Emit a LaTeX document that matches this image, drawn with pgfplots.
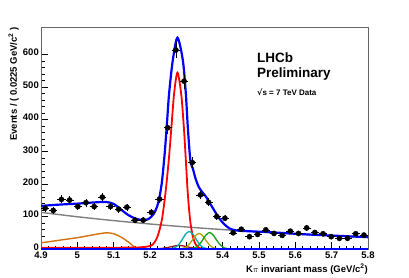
\documentclass[border=0pt]{standalone}
\usepackage{pgfplots}
\pgfplotsset{compat=1.18}
\usepackage{fontspec}
\setmainfont{Liberation Sans}
\newfontfamily\djv{DejaVu Sans}
\definecolor{rootorange}{RGB}{210,115,15}
\definecolor{rootcyan}{RGB}{0,170,170}
\definecolor{rootolive}{RGB}{170,165,0}
\definecolor{rootgreen}{RGB}{20,160,20}
\definecolor{rootbrown}{RGB}{150,25,25}
\begin{document}
\begin{tikzpicture}
\path[use as bounding box] (0,0) rectangle (409pt,277pt);
\begin{axis}[
  at={(41pt,28pt)}, anchor=south west,
  scale only axis, width=327pt, height=222pt,
  xmin=4.9, xmax=5.8, ymin=0, ymax=685,
  xtick={4.9,5,5.1,5.2,5.3,5.4,5.5,5.6,5.7,5.8},
  xticklabels={4.9,5,5.1,5.2,5.3,5.4,5.5,5.6,5.7,5.8},
  ytick={0,100,200,300,400,500,600},
  minor x tick num=4, minor y tick num=4,
  xtick pos=bottom, ytick pos=left,
  tick align=inside,
  major tick length=7pt, minor tick length=3.5pt,
  tick style={black, line width=0.6pt},
  axis line style={gray!80!black, line width=0.8pt},
  /pgf/number format/assume math mode=true,
  ticklabel style={font=\fontsize{9.5}{9.5}\selectfont\bfseries},
  xticklabel style={inner sep=1pt, yshift=-2pt},
  yticklabel style={inner sep=2pt, yshift=2pt},
  clip mode=individual,
]
% background (grey)
\addplot[gray, line width=1.4pt, smooth] coordinates {
(4.9,113)(5.0,99.5)(5.1,87.6)(5.2,77.2)(5.3,68.0)(5.4,59.9)(5.5,52.7)(5.6,46.4)(5.7,40.9)(5.8,36.0)};
% partially reconstructed (orange)
\addplot[rootorange, line width=1.4pt, smooth] coordinates {
(4.9,19)(4.95,27)(5.0,35)(5.05,45)(5.08,50)(5.10,47)(5.12,37)(5.14,22)(5.155,8)(5.165,2)(5.175,0)(5.19,0)};
% signal (red)
\addplot[red, line width=1.8pt, smooth, tension=0.5] coordinates {
(4.9,3.5)(5.0,3.5)(5.1,4)(5.17,5)(5.195,8)(5.2077,14)(5.2204,38)(5.2325,89)(5.2425,172)(5.2517,275)(5.259,377)(5.2664,480)(5.2755,544)
(5.2857,480)(5.2931,377)(5.2986,275)(5.304,172)(5.3105,89)(5.318,38)(5.327,12)(5.34,1)(5.36,0)};
% small component (dark red)
\addplot[rootbrown, line width=1.3pt, smooth] coordinates {
(5.19,0)(5.21,0.5)(5.23,1.5)(5.25,5)(5.27,10)(5.28,11)(5.29,10)(5.31,5)(5.33,1.5)(5.35,0.5)(5.37,0)};
% cyan
\addplot[rootcyan, line width=1.3pt, smooth] coordinates {
(5.248,0)(5.258,1)(5.268,4)(5.278,12)(5.288,28)(5.298,46)(5.308,54)(5.318,46)(5.328,28)(5.338,12)(5.348,4)(5.358,1)(5.368,0)};
% olive
\addplot[rootolive, line width=1.3pt, smooth] coordinates {
(5.275,0)(5.285,1)(5.295,3.5)(5.305,11)(5.315,25)(5.325,41)(5.335,48)(5.345,41)(5.355,25)(5.365,11)(5.375,3.5)(5.385,1)(5.395,0)};
% green
\addplot[rootgreen, line width=1.3pt, smooth] coordinates {
(5.304,0)(5.314,1)(5.324,3.7)(5.334,12)(5.344,26.5)(5.354,43)(5.364,51)(5.374,43)(5.384,26.5)(5.394,12)(5.404,3.7)(5.414,1)(5.424,0)};
% zero-level component (blue)
\addplot[blue, line width=1.8pt] coordinates {(4.9,0)(5.8,0)};
% total fit (blue)
\addplot[blue, line width=2.2pt, smooth, tension=0.5] coordinates {
(4.90,133)(4.95,137)(5.00,140)(5.05,144)(5.08,145)(5.10,139)(5.12,122)(5.14,105)(5.16,94)(5.18,89)(5.195,92)(5.21,108)(5.222,140)
(5.232,200)(5.240,290)(5.246,377)(5.2526,480)(5.2628,583)(5.2755,652)(5.2903,583)(5.2986,480)(5.304,377)(5.311,275)(5.318,248)
(5.326,215)(5.335,190)(5.345,174)(5.355,160)(5.361,148)(5.372,128)(5.384,106)(5.395,88)(5.407,74)(5.418,64)(5.43,59)(5.45,56)
(5.5,53.5)(5.55,50.5)(5.6,47)(5.65,44)(5.7,41.5)(5.75,39)(5.8,36.5)};
% data
\addplot[only marks, mark=*, mark size=2.6pt, black,
  error bars/.cd, x dir=both, x explicit, y dir=both, y explicit,
  error mark=none, error bar style={line width=0.6pt, black}]
  table[x=x, y=y, x error=ex, y error=ey] {
x y ex ey
4.91125 126 0.01125 11.2
4.93375 119 0.01125 10.9
4.95625 153 0.01125 12.4
4.97875 151 0.01125 12.3
5.00125 131 0.01125 11.4
5.02375 143 0.01125 12.0
5.04625 131 0.01125 11.4
5.06875 160 0.01125 12.6
5.09125 131 0.01125 11.4
5.11375 123 0.01125 11.1
5.13625 129 0.01125 11.4
5.15875 89 0.01125 9.4
5.18125 89 0.01125 9.4
5.20375 113 0.01125 10.6
5.22625 154 0.01125 12.4
5.24875 374 0.01125 19.3
5.27125 614 0.01125 24.8
5.29375 518 0.01125 22.8
5.31625 267 0.01125 16.3
5.33875 167 0.01125 12.9
5.36125 144 0.01125 12.0
5.38375 100 0.01125 10.0
5.40625 95 0.01125 9.7
5.42875 50 0.01125 7.1
5.45125 61 0.01125 7.8
5.47375 38 0.01125 6.2
5.49625 45 0.01125 6.7
5.51875 59 0.01125 7.7
5.54125 48 0.01125 6.9
5.56375 42 0.01125 6.5
5.58625 55 0.01125 7.4
5.60875 48 0.01125 6.9
5.63125 65 0.01125 8.1
5.65375 51 0.01125 7.1
5.67625 47 0.01125 6.9
5.69875 38 0.01125 6.2
5.72125 33 0.01125 5.7
5.74375 33 0.01125 5.7
5.76625 47 0.01125 6.9
5.78875 43 0.01125 6.6
};
% labels
\node[rotate=90, anchor=south east, inner sep=0pt, font=\fontsize{9.5}{9.5}\selectfont\bfseries]
  at ([xshift=-22pt]rel axis cs:0,1) {Events / ( 0.0225 GeV/c\textsuperscript{2} )};
\node[anchor=north east, inner sep=0pt, font=\fontsize{9.5}{9.5}\selectfont\bfseries]
  at ([yshift=-15pt]rel axis cs:1,0) {K$\pi$ invariant mass (GeV/c\textsuperscript{2})};
\node[anchor=north west, inner sep=0pt, align=left, font=\fontsize{13.5}{15}\selectfont\bfseries]
  at ([xshift=216pt,yshift=-26pt]rel axis cs:0,1) {LHCb\\Preliminary};
\node[anchor=north west, inner sep=0pt, font=\fontsize{8}{8}\selectfont\bfseries]
  at ([xshift=216pt,yshift=-62pt]rel axis cs:0,1) {{\djv √}s = 7 TeV Data};
\end{axis}
\end{tikzpicture}
\end{document}
